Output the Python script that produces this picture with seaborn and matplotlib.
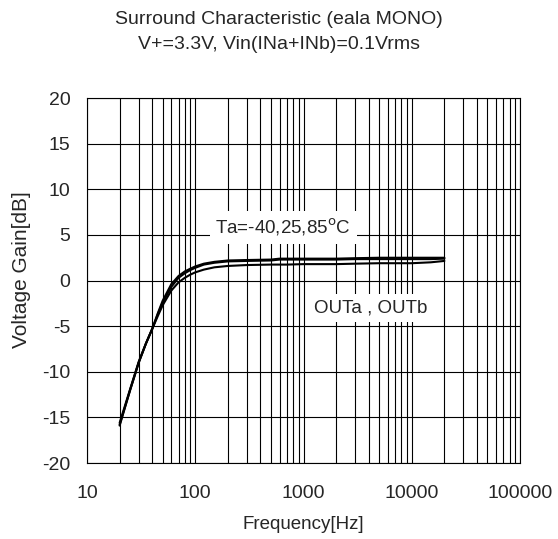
import pandas as pd
import matplotlib.pyplot as plt
import seaborn as sns
from matplotlib.ticker import LogLocator, NullFormatter, FixedLocator

# frequency response (three ambient temperatures)
freq = [20, 25, 30, 35, 40, 45, 50, 60, 70, 80, 90, 100, 120, 150, 200, 300,
        500, 600, 700, 1000, 2000, 3000, 5000, 10000, 15000, 20000]
gain_m40 = [-15.9, -12.0, -9.0, -6.9, -5.3, -3.6, -2.2, -0.4, 0.5, 1.0, 1.3, 1.55, 1.85,
            2.05, 2.2, 2.25, 2.3, 2.4, 2.4, 2.4, 2.4, 2.45, 2.5, 2.5, 2.5, 2.5]
gain_25 = [-15.8, -12.0, -9.0, -6.9, -5.3, -3.7, -2.4, -0.7, 0.3, 0.8, 1.15, 1.4, 1.75,
           1.95, 2.1, 2.15, 2.2, 2.3, 2.3, 2.3, 2.3, 2.35, 2.35, 2.35, 2.35, 2.4]
gain_85 = [-15.6, -11.9, -8.9, -6.9, -5.3, -3.9, -2.7, -1.1, -0.2, 0.3, 0.65, 0.9, 1.2,
           1.45, 1.6, 1.7, 1.75, 1.75, 1.75, 1.8, 1.8, 1.85, 1.9, 1.9, 2.0, 2.15]
temps = ['-40', '25', '85']

df = pd.DataFrame({'freq': freq * 3,
                   'gain': gain_m40 + gain_25 + gain_85,
                   'temp': [t for t in temps for _ in freq]})

sns.set_style('white')
plt.rcParams['font.family'] = ['Liberation Sans', 'DejaVu Sans']
plt.rcParams['axes.unicode_minus'] = False

fig = plt.figure(figsize=(5.58, 5.39), dpi=100)
ax = fig.add_axes([0.156, 0.141, 0.776, 0.677])

sns.lineplot(data=df, x='freq', y='gain', units='temp', estimator=None,
             color='black', linewidth=1.5, ax=ax, legend=False, zorder=3)

ax.set_xscale('log')
ax.set_xlim(10, 100000)
ax.set_ylim(-20, 20)
ax.xaxis.set_major_locator(FixedLocator([10, 100, 1000, 10000, 100000]))
ax.set_xticklabels(['10', '100', '1000', '10000', '100000'])
ax.xaxis.set_minor_locator(LogLocator(base=10, subs=range(2, 10)))
ax.xaxis.set_minor_formatter(NullFormatter())
ax.set_yticks(range(-20, 25, 5))
ax.grid(True, which='both', axis='x', color='black', linewidth=0.8)
ax.grid(True, which='major', axis='y', color='black', linewidth=0.8)
ax.tick_params(axis='both', which='both', length=0, labelsize=14)
ax.tick_params(axis='x', pad=16)
ax.tick_params(axis='y', pad=12)
for s in ax.spines.values():
    s.set_color('black')
    s.set_linewidth(0.8)

ax.set_xlabel('Frequency[Hz]', fontsize=13.5, labelpad=10)
ax.set_ylabel('Voltage Gain[dB]', fontsize=15)
ax.yaxis.set_label_coords(-0.13, 0.53)

ax.text(650, 5.8, 'Ta=-40,25,85$^{\\mathrm{o}}$C', fontsize=13.5, ha='center', va='center',
        bbox=dict(facecolor='white', edgecolor='none', pad=4), zorder=4)
ax.text(4200, -3.0, 'OUTa , OUTb', fontsize=13.5, ha='center', va='center',
        bbox=dict(facecolor='white', edgecolor='none', pad=4), zorder=4)

fig.text(0.5, 0.963, 'Surround Characteristic (eala MONO)', fontsize=14, ha='center', va='center')
fig.text(0.5, 0.917, 'V+=3.3V, Vin(INa+INb)=0.1Vrms', fontsize=14, ha='center', va='center')

fig.savefig('out.png', dpi=100)
